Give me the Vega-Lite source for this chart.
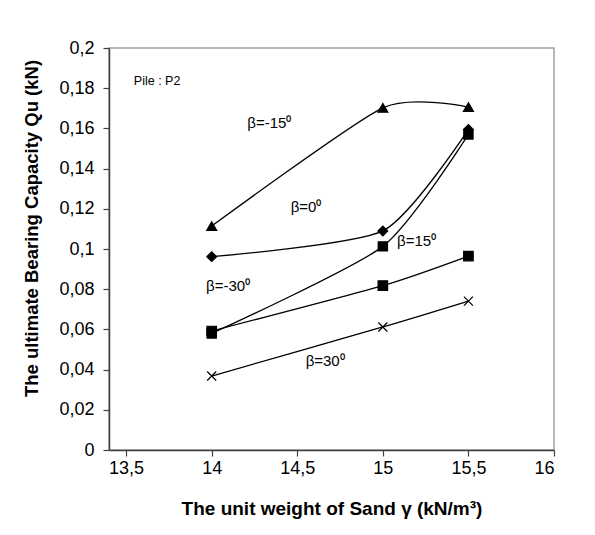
{
  "$schema": "https://vega.github.io/schema/vega-lite/v6.json",
  "width": 445,
  "height": 402,
  "autosize": {"type": "none"},
  "padding": {"left": 109, "top": 48, "right": 41, "bottom": 85},
  "background": "white",
  "config": {
    "locale": {"number": {"decimal": ",", "thousands": ".", "grouping": [3], "currency": ["", "€"]}},
    "font": "Liberation Sans",
    "view": {"stroke": "#a0a0a0", "strokeWidth": 1.5},
    "axis": {
      "grid": false,
      "domainColor": "#404040",
      "domainWidth": 1.5,
      "tickColor": "#404040",
      "tickWidth": 1.2,
      "tickSize": 6,
      "labelColor": "black",
      "labelFontSize": 18,
      "labelFont": "Liberation Sans",
      "titleFont": "Liberation Sans",
      "titleFontWeight": "bold",
      "titleColor": "black"
    }
  },
  "datasets": {
    "pts": [
      {"g": 14, "q": 0.1114, "s": "-15"},
      {"g": 15, "q": 0.1702, "s": "-15"},
      {"g": 15.5, "q": 0.1706, "s": "-15"},
      {"g": 14, "q": 0.0962, "s": "0"},
      {"g": 15, "q": 0.1090, "s": "0"},
      {"g": 15.5, "q": 0.1595, "s": "0"},
      {"g": 14, "q": 0.0592, "s": "-30"},
      {"g": 15, "q": 0.0818, "s": "-30"},
      {"g": 15.5, "q": 0.0965, "s": "-30"},
      {"g": 14, "q": 0.0580, "s": "15"},
      {"g": 15, "q": 0.1013, "s": "15"},
      {"g": 15.5, "q": 0.1570, "s": "15"},
      {"g": 14, "q": 0.0368, "s": "30"},
      {"g": 15, "q": 0.0612, "s": "30"},
      {"g": 15.5, "q": 0.0741, "s": "30"}
    ],
    "labels": [
      {"g": 13.545, "q": 0.1836, "t": "Pile : P2", "k": "pile"},
      {"g": 14.337, "q": 0.1627, "t": "β=-15⁰", "k": "b"},
      {"g": 14.551, "q": 0.1209, "t": "β=0⁰", "k": "b"},
      {"g": 15.197, "q": 0.1040, "t": "β=15⁰", "k": "b"},
      {"g": 14.096, "q": 0.0816, "t": "β=-30⁰", "k": "b"},
      {"g": 14.663, "q": 0.0443, "t": "β=30⁰", "k": "b"}
    ]
  },
  "layer": [
    {
      "data": {"name": "pts"},
      "mark": {"type": "line", "interpolate": "cardinal", "tension": 0.35, "color": "black", "strokeWidth": 1.3},
      "encoding": {
        "x": {"field": "g", "type": "quantitative", "scale": {"domain": [13.5, 16]},
              "axis": {"values": [13.5, 14, 14.5, 15, 15.5, 16], "format": ".1~f", "labelPadding": 3,
                       "title": "The unit weight of Sand γ (kN/m³)", "titlePadding": 22, "titleFontSize": 19}},
        "y": {"field": "q", "type": "quantitative", "scale": {"domain": [0, 0.2]},
              "axis": {"values": [0, 0.02, 0.04, 0.06, 0.08, 0.1, 0.12, 0.14, 0.16, 0.18, 0.2], "format": ".2~f", "labelPadding": 9,
                       "title": "The ultimate Bearing Capacity Qu (kN)", "titlePadding": 17, "titleY": 180, "titleFontSize": 18.5}},
        "detail": {"field": "s", "type": "nominal"}
      }
    },
    {
      "data": {"name": "pts"},
      "mark": {"type": "point", "filled": true, "color": "black", "stroke": "black", "strokeWidth": 1.2, "opacity": 1},
      "encoding": {
        "x": {"field": "g", "type": "quantitative"},
        "y": {"field": "q", "type": "quantitative"},
        "shape": {"field": "s", "type": "nominal", "legend": null,
                  "scale": {"domain": ["-15", "0", "-30", "15", "30"],
                            "range": ["triangle-up", "diamond", "square", "square", "M-1,-1L1,1M-1,1L1,-1"]}},
        "size": {"field": "s", "type": "ordinal", "legend": null,
                 "scale": {"domain": ["-15", "0", "-30", "15", "30"], "range": [100, 81, 64, 150, 100]}},
        "order": {"field": "s", "sort": "ascending"}
      }
    },
    {
      "data": {"name": "labels"},
      "transform": [{"filter": "datum.k == 'b'"}],
      "mark": {"type": "text", "fontSize": 15, "color": "black", "align": "center", "baseline": "middle", "font": "Liberation Sans"},
      "encoding": {
        "x": {"field": "g", "type": "quantitative"},
        "y": {"field": "q", "type": "quantitative"},
        "text": {"field": "t"}
      }
    },
    {
      "data": {"name": "labels"},
      "transform": [{"filter": "datum.k == 'pile'"}],
      "mark": {"type": "text", "fontSize": 12.5, "color": "black", "align": "left", "baseline": "middle", "font": "Liberation Sans", "letterSpacing": -0.4},
      "encoding": {
        "x": {"field": "g", "type": "quantitative"},
        "y": {"field": "q", "type": "quantitative"},
        "text": {"field": "t"}
      }
    }
  ]
}
